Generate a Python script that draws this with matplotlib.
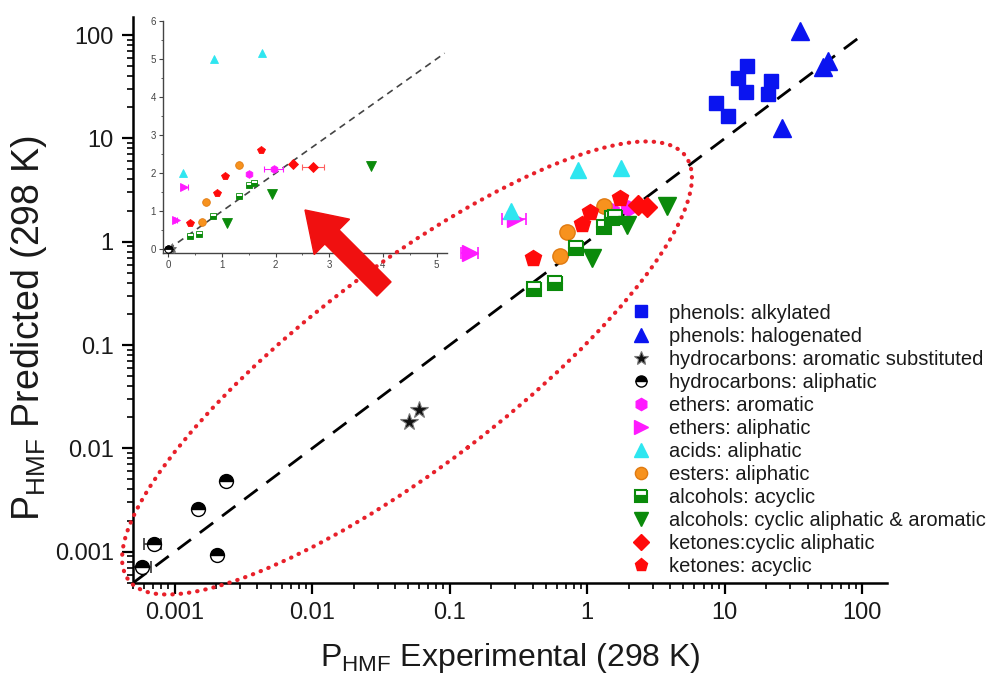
import matplotlib

matplotlib.use('Agg')
import matplotlib.pyplot as plt
from matplotlib.patches import Ellipse, FancyArrow
from matplotlib.ticker import LogLocator, NullFormatter, MultipleLocator

plt.rcParams['font.family'] = ['Liberation Sans', 'DejaVu Sans']

# experimental / predicted P_HMF values
phenol_alk_exp = [14.6, 12.4, 21.7, 14.2, 20.7, 8.6, 10.5]
phenol_alk_pred = [49.6, 38.0, 36.1, 27.9, 26.9, 21.8, 16.5]

phenol_hal_exp = [35.3, 56.0, 51.6, 26.0]
phenol_hal_pred = [109.0, 56.0, 48.5, 12.6]

hc_arom_exp = [0.060, 0.0504]
hc_arom_pred = [0.0233, 0.018]

hc_aliph_exp = [0.00237, 0.00148, 0.000703, 0.00204, 0.000577]
hc_aliph_pred = [0.00485, 0.00259, 0.00119, 0.000923, 0.000713]
hc_aliph_xerr = [0, 0, 0.0001, 0, 0.0001]

ether_arom_exp = [1.51, 1.96]
ether_arom_pred = [1.97, 2.12]
ether_arom_xerr = [0, 0.18]

ether_aliph_exp = [0.14, 0.30]
ether_aliph_pred = [0.78, 1.64]
ether_aliph_xerr = [0.02, 0.06]

acid_exp = [0.28, 0.85, 1.75]
acid_pred = [1.99, 4.99, 5.15]

ester_exp = [0.63, 0.71, 1.32]
ester_pred = [0.72, 1.23, 2.22]

alc_acyc_exp = [0.41, 0.58, 0.83, 1.32, 1.51, 1.60]
alc_acyc_pred = [0.35, 0.40, 0.87, 1.39, 1.70, 1.75]

alc_cyc_exp = [1.09, 1.93, 3.78]
alc_cyc_pred = [0.70, 1.45, 2.20]

ket_cyc_exp = [2.33, 2.70]
ket_cyc_pred = [2.25, 2.15]
ket_cyc_xerr = [0, 0.2]

ket_acyc_exp = [0.40, 0.91, 1.05, 1.73]
ket_acyc_pred = [0.70, 1.48, 1.92, 2.62]

major_ticks = [0.001, 0.01, 0.1, 1, 10, 100]
major_labels = ['0.001', '0.01', '0.1', '1', '10', '100']


def build_series():
    blue = '#0a14f0'
    mag = '#ff1aff'
    green = '#0a8a0a'
    red = '#ff0a0a'
    return [
        dict(label='phenols: alkylated', x=phenol_alk_exp, y=phenol_alk_pred,
             style=dict(marker='s', ms=10, mfc=blue, mec=blue)),
        dict(label='phenols: halogenated', x=phenol_hal_exp, y=phenol_hal_pred,
             style=dict(marker='^', ms=13, mfc=blue, mec=blue)),
        dict(label='hydrocarbons: aromatic substituted', x=hc_arom_exp, y=hc_arom_pred,
             style=dict(marker='*', ms=13, mfc='#111111', mec='#777777', mew=0.8)),
        dict(label='hydrocarbons: aliphatic', x=hc_aliph_exp, y=hc_aliph_pred, xerr=hc_aliph_xerr,
             style=dict(marker='o', ms=10, fillstyle='top', mfc='black', mfcalt='white', mec='black', mew=1.0),
             ecolor='#333333'),
        dict(label='ethers: aromatic', x=ether_arom_exp, y=ether_arom_pred, xerr=ether_arom_xerr,
             style=dict(marker='h', ms=11, mfc=mag, mec=mag), ecolor=mag),
        dict(label='ethers: aliphatic', x=ether_aliph_exp, y=ether_aliph_pred, xerr=ether_aliph_xerr,
             style=dict(marker='>', ms=12, mfc=mag, mec=mag), ecolor=mag),
        dict(label='acids: aliphatic', x=acid_exp, y=acid_pred,
             style=dict(marker='^', ms=12, mfc='#2ee6f0', mec='#2ee6f0')),
        dict(label='esters: aliphatic', x=ester_exp, y=ester_pred,
             style=dict(marker='o', ms=11, mfc='#f7921e', mec='#e07a10')),
        dict(label='alcohols: acyclic', x=alc_acyc_exp, y=alc_acyc_pred,
             style=dict(marker='s', ms=10, fillstyle='top', mfc='white', mfcalt=green, mec=green, mew=1.5)),
        dict(label='alcohols: cyclic aliphatic & aromatic', x=alc_cyc_exp, y=alc_cyc_pred,
             style=dict(marker='v', ms=13, mfc=green, mec=green)),
        dict(label='ketones:cyclic aliphatic', x=ket_cyc_exp, y=ket_cyc_pred, xerr=ket_cyc_xerr,
             style=dict(marker='D', ms=10, mfc=red, mec=red), ecolor='#ff6060'),
        dict(label='ketones: acyclic', x=ket_acyc_exp, y=ket_acyc_pred,
             style=dict(marker='p', ms=12, mfc=red, mec=red)),
    ]


def draw_errors(ax, s, lw, cap):
    if 'xerr' not in s:
        return
    pts = [(x, y, e) for x, y, e in zip(s['x'], s['y'], s['xerr']) if e > 0]
    if not pts:
        return
    ax.errorbar([p[0] for p in pts], [p[1] for p in pts], xerr=[p[2] for p in pts],
                fmt='none', ecolor=s['ecolor'], elinewidth=lw, capsize=cap, capthick=lw, zorder=2)


def main():
    series = build_series()
    fig = plt.figure(figsize=(9.94, 6.73), dpi=100)

    ax = fig.add_axes([0.134, 0.134, 0.758, 0.841])
    ax.set_xscale('log')
    ax.set_yscale('log')
    ax.set_xlim(5e-4, 150)
    ax.set_ylim(5e-4, 150)
    for side in ['top', 'right']:
        ax.spines[side].set_visible(False)
    for side in ['left', 'bottom']:
        ax.spines[side].set_linewidth(1.8)
    ax.set_xticks(major_ticks, major_labels)
    ax.set_yticks(major_ticks, major_labels)
    for axis in [ax.xaxis, ax.yaxis]:
        axis.set_minor_locator(LogLocator(base=10, subs=range(2, 10), numticks=20))
        axis.set_minor_formatter(NullFormatter())
    ax.tick_params(which='major', direction='out', length=8, width=1.6, labelsize=17, pad=6,
                   labelcolor='#1a1a1a')
    ax.tick_params(which='minor', direction='out', length=4, width=1.2)

    ax.plot([5e-4, 100], [5e-4, 100], ls=(0, (6, 4)), color='black', lw=2, zorder=1)

    handles = []
    for s in series:
        draw_errors(ax, s, 1.2, 4)
        h, = ax.plot(s['x'], s['y'], ls='none', zorder=3, **s['style'])
        handles.append(h)

    ax.set_xlabel('P$_{\\mathregular{HMF}}$ Experimental (298 K)', fontsize=23, labelpad=12,
                  color='#1a1a1a')
    ax.set_ylabel('P$_{\\mathregular{HMF}}$ Predicted (298 K)', fontsize=27, color='#1a1a1a')
    ax.yaxis.set_label_coords(-0.112, 0.45)

    ax.legend(handles, [s['label'] for s in series], loc='upper left',
              bbox_to_anchor=(0.633, 0.549), bbox_transform=fig.transFigure,
              frameon=False, fontsize=14.5, labelspacing=0.2, handletextpad=0.8,
              handlelength=1.2, borderaxespad=0, borderpad=0, markerscale=0.8,
              labelcolor='#1a1a1a')

    # linear-scale inset
    ins = fig.add_axes([0.164, 0.624, 0.286, 0.345])
    ins.set_xlim(-0.1, 5.2)
    ins.set_ylim(-0.1, 6)
    for side in ['top', 'right']:
        ins.spines[side].set_visible(False)
    for side in ['left', 'bottom']:
        ins.spines[side].set_linewidth(1.0)
        ins.spines[side].set_color('#444444')
    ins.xaxis.set_major_locator(MultipleLocator(1))
    ins.yaxis.set_major_locator(MultipleLocator(1))
    ins.xaxis.set_minor_locator(MultipleLocator(0.5))
    ins.yaxis.set_minor_locator(MultipleLocator(0.5))
    ins.tick_params(which='major', direction='out', length=3, width=0.8, labelsize=7,
                    colors='#444444', pad=2)
    ins.tick_params(which='minor', direction='out', length=1.5, width=0.6, colors='#444444')
    ins.patch.set_alpha(0)
    ins.plot([0, 5.15], [0, 5.15], ls=(0, (4, 3)), color='#444444', lw=1.2, zorder=1)
    for s in series:
        draw_errors(ins, s, 0.8, 2)
        st = dict(s['style'])
        st['ms'] = st['ms'] * 0.5
        st['mew'] = 0.6
        ins.plot(s['x'], s['y'], ls='none', zorder=3, **st)

    # dotted red ellipse and arrow
    ell = Ellipse((4.07, 3.05), width=7.0, height=2.0, angle=37.3,
                  transform=fig.dpi_scale_trans, fill=False, edgecolor='#e8202a',
                  lw=3, linestyle=(0, (0.1, 1.9)), zorder=5)
    ell.set_capstyle('round')
    fig.add_artist(ell)
    arrow = FancyArrow(3.84, 3.84, -0.79, 0.79, width=0.2, head_width=0.5, head_length=0.38,
                       length_includes_head=True, color='#f01010', transform=fig.dpi_scale_trans,
                       zorder=6)
    fig.add_artist(arrow)

    fig.savefig('out.png', dpi=100)


if __name__ == '__main__':
    main()
